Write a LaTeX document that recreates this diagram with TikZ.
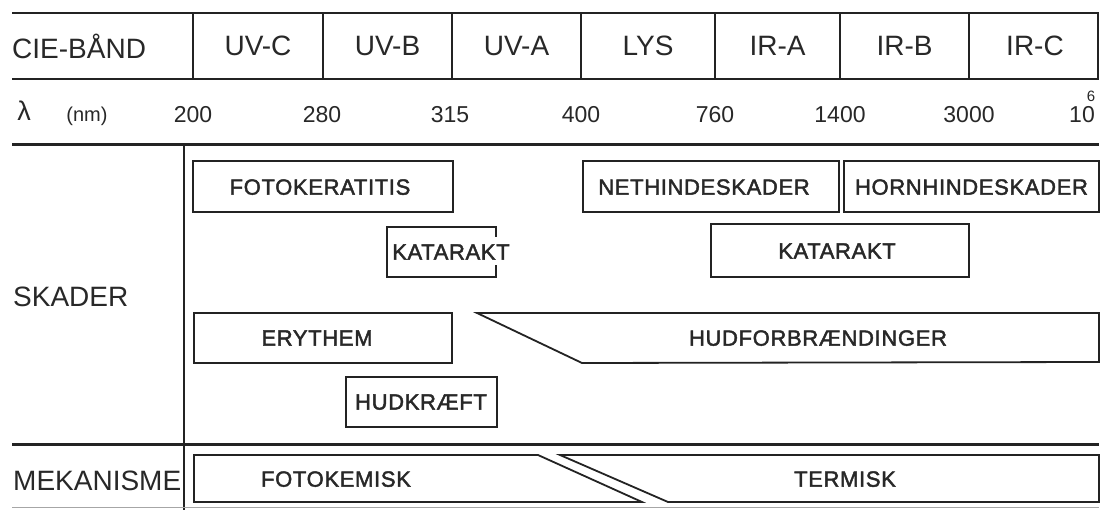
\documentclass[tikz,border=0pt]{standalone}
\usepackage{fontspec}
\setmainfont{Liberation Sans}
\newfontfamily\medfont{Liberation Sans}[BoldFont={Liberation Sans},BoldFeatures={FakeBold=2},LetterSpace=3]
\definecolor{inkc}{RGB}{35,35,35}
\definecolor{txtc}{RGB}{40,40,40}
\begin{document}
\begin{tikzpicture}[x=1pt,y=-1pt,
  rule/.style={line width=2.6pt, draw=inkc},
  thickrule/.style={line width=3pt, draw=inkc},
  divider/.style={line width=1.6pt, draw=inkc},
  vline/.style={line width=1.8pt, draw=inkc},
  boxline/.style={line width=1.8pt, draw=inkc, line join=miter},
  band/.style={font=\fontsize{28}{32}\selectfont, text=txtc, inner sep=0pt, text depth=0pt},
  side/.style={font=\fontsize{28}{32}\selectfont, text=txtc, anchor=west, inner sep=0pt, text depth=0pt},
  wl/.style={font=\fontsize{23}{26}\selectfont, text=txtc, inner sep=0pt, text depth=0pt},
  lbl/.style={font=\medfont\bfseries\fontsize{22}{26}\selectfont, text=txtc, inner sep=0pt, text depth=0pt}
]
\useasboundingbox (0,0) rectangle (1104,510);
\fill[white] (0,0) rectangle (1104,510);

% ---- CIE band table ----
\draw[rule] (12,13) -- (1098,13) -- (1098,79) -- (12,79);
\foreach \xx in {193,323,452,581,715,840,969}
  \draw[divider] (\xx,13) -- (\xx,79);

\node[side] (cie) at (12,46) {CIE-BÅND};
\node[band] (uvc) at (258,46) {UV-C};
\node[band] (uvb) at (387.5,46) {UV-B};
\node[band] (uva) at (516.5,46) {UV-A};
\node[band] (lys) at (648,46) {LYS};
\node[band] (ira) at (777.5,46) {IR-A};
\node[band] (irb) at (904.5,46) {IR-B};
\node[band] (irc) at (1035,46) {IR-C};

% ---- wavelength row ----
\node[wl, font=\fontsize{27}{30}\selectfont] (lam) at (24,111) {λ};
\node[wl, font=\fontsize{20}{24}\selectfont] (nm) at (87,114) {(nm)};
\node[wl] (w200) at (193,114) {200};
\node[wl] (w280) at (322,114) {280};
\node[wl] (w315) at (450,114) {315};
\node[wl] (w400) at (581,114) {400};
\node[wl] (w760) at (715,114) {760};
\node[wl] (w1400) at (840,114) {1400};
\node[wl] (w3000) at (969,114) {3000};
\node[wl] (w10) at (1082,114) {10};
\node[wl, font=\fontsize{15}{18}\selectfont] (w6) at (1091,96) {6};

% ---- section rules ----
\draw[thickrule] (12,145) -- (1099,145);
\draw[thickrule] (12,445) -- (1099,445);
\draw[vline] (184,145) -- (184,510);
\draw[line width=1pt, draw=black!35] (12,508) -- (1099,508);

\node[side] (skader) at (13,297) {SKADER};
\node[side] (mek) at (13,481) {MEKANISME};

% ---- SKADER boxes ----
\draw[boxline] (193,161) rectangle (453,212);
\node[lbl] (fotok) at (320,187) {FOTOKERATITIS};

\draw[boxline] (583,161) rectangle (839,212);
\node[lbl] (neth) at (704,187) {NETHINDESKADER};

\draw[boxline] (844,161) rectangle (1099,212);
\node[lbl] (horn) at (971.5,187) {HORNHINDESKADER};

\draw[boxline] (496,237) -- (496,227) -- (387,227) -- (387,277) -- (496,277) -- (496,265);
\node[lbl, anchor=west] (kat1) at (392,252) {KATARAKT};

\draw[boxline] (711,224) rectangle (969,277);
\node[lbl] (kat2) at (837,251) {KATARAKT};

\draw[boxline] (194,313) rectangle (452,363);
\node[lbl] (ery) at (317,338) {ERYTHEM};

\draw[boxline] (477,313) -- (1099,313) -- (1099,362) -- (582,363) -- cycle;
\node[lbl] (hudf) at (818,338) {HUDFORBRÆNDINGER};

\draw[boxline] (346,377) rectangle (497,427);
\node[lbl] (hudk) at (421,402) {HUDKRÆFT};

% ---- MEKANISME ----
\draw[boxline] (194,455) -- (538,455) -- (642,502) -- (194,502) -- cycle;
\node[lbl] (fkem) at (336,479) {FOTOKEMISK};

\draw[boxline] (560,455) -- (1099,455) -- (1099,502) -- (668,502) -- cycle;
\node[lbl] (term) at (845,479) {TERMISK};
\end{tikzpicture}
\end{document}
